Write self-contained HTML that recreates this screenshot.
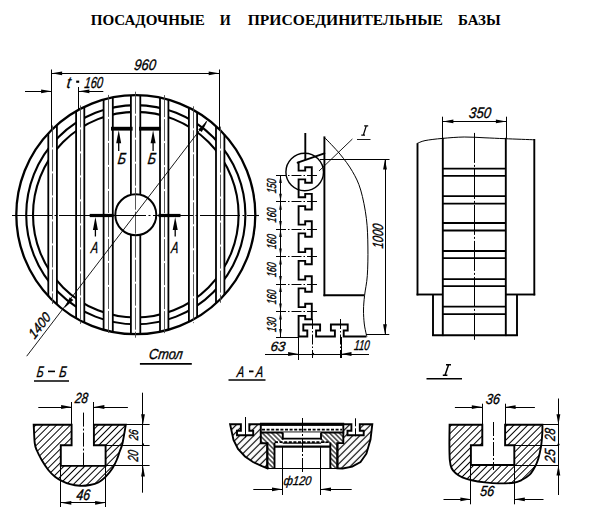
<!DOCTYPE html>
<html><head><meta charset="utf-8"><style>
html,body{margin:0;padding:0;background:#fff;width:600px;height:525px;overflow:hidden}
svg{display:block}
</style></head><body>
<svg width="600" height="525" viewBox="0 0 600 525" stroke="#000" fill="none" font-family='"Liberation Sans", sans-serif'>
<text x="0" y="0" font-size="100" font-style="normal" font-weight="bold" transform="translate(148 20.1) scale(0.15088 0.14967) translate(-379.74 32.74)" font-family='"Liberation Serif", serif' fill="#000" stroke="none">ПОСАДОЧНЫЕ</text>
<text x="0" y="0" font-size="100" font-style="normal" font-weight="bold" transform="translate(225.25 20.1) scale(0.14110 0.14967) translate(-38.92 32.74)" font-family='"Liberation Serif", serif' fill="#000" stroke="none">И</text>
<text x="0" y="0" font-size="100" font-style="normal" font-weight="bold" transform="translate(345.25 20.1) scale(0.15621 0.14967) translate(-624.51 32.74)" font-family='"Liberation Serif", serif' fill="#000" stroke="none">ПРИСОЕДИНИТЕЛЬНЫЕ</text>
<text x="0" y="0" font-size="100" font-style="normal" font-weight="bold" transform="translate(479.65 20.1) scale(0.14936 0.14967) translate(-144.65 32.74)" font-family='"Liberation Serif", serif' fill="#000" stroke="none">БАЗЫ</text>
<clipPath id="cc"><circle cx="135.8" cy="214.7" r="119.5"/></clipPath>
<circle cx="135.8" cy="214.7" r="109.6" fill="none" stroke-width="2.1"/>
<circle cx="135.8" cy="214.7" r="102.8" fill="none" stroke-width="2.1"/>
<g clip-path="url(#cc)"><rect x="48.3" y="80" width="8.6" height="280" fill="#fff" stroke="none"/><rect x="76.1" y="80" width="8.2" height="280" fill="#fff" stroke="none"/><rect x="103.6" y="80" width="9.2" height="280" fill="#fff" stroke="none"/><rect x="130.9" y="80" width="9.4" height="280" fill="#fff" stroke="none"/><rect x="160" y="80" width="8.4" height="280" fill="#fff" stroke="none"/><rect x="188.9" y="80" width="8.2" height="280" fill="#fff" stroke="none"/><rect x="216" y="80" width="8.4" height="280" fill="#fff" stroke="none"/></g>
<circle cx="135.8" cy="214.7" r="119.5" fill="none" stroke-width="2.3"/>
<line x1="48.3" y1="133.31" x2="48.3" y2="296.09" stroke-width="1.8" stroke-linecap="butt"/>
<line x1="56.9" y1="124.95" x2="56.9" y2="304.45" stroke-width="1.8" stroke-linecap="butt"/>
<line x1="76.1" y1="111.18" x2="76.1" y2="318.22" stroke-width="1.8" stroke-linecap="butt"/>
<line x1="84.3" y1="106.87" x2="84.3" y2="322.53" stroke-width="1.8" stroke-linecap="butt"/>
<line x1="103.6" y1="99.62" x2="103.6" y2="329.78" stroke-width="1.8" stroke-linecap="butt"/>
<line x1="112.8" y1="97.43" x2="112.8" y2="331.97" stroke-width="1.8" stroke-linecap="butt"/>
<line x1="130.9" y1="95.3" x2="130.9" y2="334.1" stroke-width="1.8" stroke-linecap="butt"/>
<line x1="140.3" y1="95.28" x2="140.3" y2="334.12" stroke-width="1.8" stroke-linecap="butt"/>
<line x1="160" y1="97.68" x2="160" y2="331.72" stroke-width="1.8" stroke-linecap="butt"/>
<line x1="168.4" y1="99.73" x2="168.4" y2="329.67" stroke-width="1.8" stroke-linecap="butt"/>
<line x1="188.9" y1="107.65" x2="188.9" y2="321.75" stroke-width="1.8" stroke-linecap="butt"/>
<line x1="197.1" y1="112.12" x2="197.1" y2="317.28" stroke-width="1.8" stroke-linecap="butt"/>
<line x1="216" y1="126.11" x2="216" y2="303.29" stroke-width="1.8" stroke-linecap="butt"/>
<line x1="224.4" y1="134.51" x2="224.4" y2="294.89" stroke-width="1.8" stroke-linecap="butt"/>
<circle cx="135.8" cy="214.7" r="20.5" fill="#fff" stroke-width="2"/>
<line x1="52.5" y1="125.42" x2="52.5" y2="303.98" stroke-width="0.9" stroke-dasharray="22 2" stroke="#444" stroke-linecap="butt"/>
<line x1="80.5" y1="105.42" x2="80.5" y2="323.98" stroke-width="0.9" stroke-dasharray="22 2" stroke="#444" stroke-linecap="butt"/>
<line x1="108.5" y1="94.93" x2="108.5" y2="334.47" stroke-width="0.9" stroke-dasharray="22 2" stroke="#444" stroke-linecap="butt"/>
<line x1="135.5" y1="91.7" x2="135.5" y2="337.7" stroke-width="0.9" stroke-dasharray="22 2" stroke="#444" stroke-linecap="butt"/>
<line x1="164.5" y1="95.12" x2="164.5" y2="334.28" stroke-width="0.9" stroke-dasharray="22 2" stroke="#444" stroke-linecap="butt"/>
<line x1="193.5" y1="106.28" x2="193.5" y2="323.12" stroke-width="0.9" stroke-dasharray="22 2" stroke="#444" stroke-linecap="butt"/>
<line x1="220.5" y1="126.6" x2="220.5" y2="302.8" stroke-width="0.9" stroke-dasharray="22 2" stroke="#444" stroke-linecap="butt"/>
<line x1="12" y1="215.5" x2="259" y2="215.5" stroke-width="1.1" stroke-dasharray="40 2.5 2 2.5" stroke-linecap="butt"/>
<rect x="111" y="126.8" width="21.6" height="3.8" fill="#000" stroke="none" stroke-width="0"/>
<rect x="139" y="126.8" width="21.5" height="3.8" fill="#000" stroke="none" stroke-width="0"/>
<line x1="118.7" y1="140" x2="118.7" y2="151" stroke-width="1.3" stroke-linecap="butt"/>
<polygon points="118.7,130.3 121.2,143.3 116.2,143.3" fill="#000" stroke="none"/>
<line x1="153.1" y1="140" x2="153.1" y2="151" stroke-width="1.3" stroke-linecap="butt"/>
<polygon points="153.1,130.3 155.6,143.3 150.6,143.3" fill="#000" stroke="none"/>
<text x="0" y="0" font-size="100" font-style="italic" font-weight="normal" transform="translate(122 158.3) skewX(-7) scale(0.12714 0.15989) translate(-32.32 34.4)" font-family='"Liberation Sans", sans-serif' fill="#000" stroke="#000" stroke-width="2.189">Б</text>
<text x="0" y="0" font-size="100" font-style="italic" font-weight="normal" transform="translate(152 158.3) skewX(-7) scale(0.12714 0.15989) translate(-32.32 34.4)" font-family='"Liberation Sans", sans-serif' fill="#000" stroke="#000" stroke-width="2.189">Б</text>
<rect x="89.7" y="213.9" width="23.9" height="3.2" fill="#000" stroke="none" stroke-width="0"/>
<rect x="158.5" y="213.9" width="22" height="3.2" fill="#000" stroke="none" stroke-width="0"/>
<line x1="95.4" y1="225" x2="95.4" y2="236.5" stroke-width="1.3" stroke-linecap="butt"/>
<polygon points="95.4,217.1 97.9,230.1 92.9,230.1" fill="#000" stroke="none"/>
<line x1="175.2" y1="225" x2="175.2" y2="236.5" stroke-width="1.3" stroke-linecap="butt"/>
<polygon points="175.2,217.1 177.7,230.1 172.7,230.1" fill="#000" stroke="none"/>
<text x="0" y="0" font-size="100" font-style="italic" font-weight="normal" transform="translate(94.3 247.6) skewX(-7) scale(0.10790 0.15989) translate(-28.2 34.4)" font-family='"Liberation Sans", sans-serif' fill="#000" stroke="#000" stroke-width="2.189">A</text>
<text x="0" y="0" font-size="100" font-style="italic" font-weight="normal" transform="translate(174.5 247.6) skewX(-7) scale(0.10790 0.15989) translate(-28.2 34.4)" font-family='"Liberation Sans", sans-serif' fill="#000" stroke="#000" stroke-width="2.189">A</text>
<line x1="26.7" y1="356.2" x2="206.7" y2="121" stroke-width="0.9" stroke-linecap="butt"/>
<polygon points="207.34,121.23 201.79,132.09 198.3,129.42" fill="#000" stroke="none"/>
<polygon points="64.26,308.17 69.81,297.31 73.3,299.98" fill="#000" stroke="none"/>
<text x="0" y="0" font-size="100" font-style="italic" font-weight="normal" transform="translate(39.6 325.3) rotate(-52.57) skewX(-7) scale(0.12462 0.13842) translate(-112.11 34.42)" font-family='"Liberation Sans", sans-serif' fill="#000" stroke="#000" stroke-width="2.529">1400</text>
<line x1="51.5" y1="69.5" x2="51.5" y2="129.9" stroke-width="1" stroke-linecap="butt"/>
<line x1="219.5" y1="69.5" x2="219.5" y2="129.12" stroke-width="1" stroke-linecap="butt"/>
<line x1="51.6" y1="73.5" x2="219.2" y2="73.5" stroke-width="1" stroke-linecap="butt"/>
<polygon points="51.6,73.3 62.1,71.4 62.1,75.2" fill="#000" stroke="none"/>
<polygon points="219.2,73.3 208.7,75.2 208.7,71.4" fill="#000" stroke="none"/>
<text x="0" y="0" font-size="100" font-style="italic" font-weight="normal" transform="translate(145.5 64.6) skewX(-7) scale(0.13022 0.15254) translate(-84.72 34.42)" font-family='"Liberation Sans", sans-serif' fill="#000" stroke="#000" stroke-width="2.294">960</text>
<line x1="78.5" y1="87" x2="78.5" y2="109.62" stroke-width="1" stroke-linecap="butt"/>
<line x1="25" y1="91.5" x2="51.6" y2="91.5" stroke-width="1" stroke-linecap="butt"/>
<polygon points="51.6,91.3 41.1,93.2 41.1,89.4" fill="#000" stroke="none"/>
<line x1="78.9" y1="91.5" x2="103.3" y2="91.5" stroke-width="1" stroke-linecap="butt"/>
<polygon points="78.9,91.3 89.4,89.4 89.4,93.2" fill="#000" stroke="none"/>
<text x="0" y="0" font-size="100" font-style="italic" font-weight="normal" transform="translate(69.4 82.5) skewX(-7) scale(0.14504 0.16457) translate(-17.9 31.84)" font-family='"Liberation Sans", sans-serif' fill="#000" stroke="#000" stroke-width="1.823">t</text>
<rect x="76.2" y="80.6" width="3" height="2.2" fill="#000" stroke="none" stroke-width="0"/>
<text x="0" y="0" font-size="100" font-style="italic" font-weight="normal" transform="translate(94 82.3) skewX(-7) scale(0.11090 0.15819) translate(-84.3 34.42)" font-family='"Liberation Sans", sans-serif' fill="#000" stroke="#000" stroke-width="2.213">160</text>
<line x1="305.3" y1="133" x2="305.3" y2="160.2" stroke-width="1.9" stroke-linecap="butt"/>
<polyline points="298.6,161.8 298.6,170.6 305.2,170.6 305.2,167.2 311.8,167.2 311.8,182.8 305.2,182.8 305.2,179.4 298.6,179.4 298.6,197.3 305.2,197.3 305.2,193.9 311.8,193.9 311.8,209.5 305.2,209.5 305.2,206.1 298.6,206.1 298.6,224.6 305.2,224.6 305.2,221.2 311.8,221.2 311.8,236.8 305.2,236.8 305.2,233.4 298.6,233.4 298.6,252.1 305.2,252.1 305.2,248.7 311.8,248.7 311.8,264.3 305.2,264.3 305.2,260.9 298.6,260.9 298.6,279.6 305.2,279.6 305.2,276.2 311.8,276.2 311.8,291.8 305.2,291.8 305.2,288.4 298.6,288.4 298.6,307.1 305.2,307.1 305.2,303.7 311.8,303.7 311.8,319.3 305.2,319.3 305.2,315.9 298.6,315.9 298.6,336.5 307.3,336.5 307.3,330.5 303.3,330.5 303.3,324.5 320.1,324.5 320.1,330.5 316.1,330.5 316.1,336.5 334.9,336.5 334.9,330.5 330.9,330.5 330.9,324.5 347.7,324.5 347.7,330.5 343.7,330.5 343.7,336.5 366.5,336.5" fill="none" stroke-width="1.9" stroke-linejoin="miter"/>
<line x1="297.6" y1="162.7" x2="324.4" y2="153.4" stroke-width="1.9" stroke-linecap="round"/>
<line x1="324.4" y1="136.4" x2="324.4" y2="296.2" stroke-width="1.9" stroke-linecap="butt"/>
<line x1="323.5" y1="295.3" x2="364.5" y2="295.3" stroke-width="1.9" stroke-linecap="butt"/>
<path d="M324.2,137.1 C326.83,139.93 335.3,148.38 340,154.1 C344.7,159.82 348.95,165.42 352.4,171.4 C355.85,177.38 358.37,182.13 360.7,190 C363.03,197.87 365.2,209.1 366.4,218.6 C367.6,228.1 367.75,237.48 367.9,247 C368.05,256.52 367.85,267.65 367.3,275.7 C366.75,283.75 365.23,289.58 364.6,295.3 C363.97,301.02 363.55,305.22 363.5,310 C363.45,314.78 363.85,320 364.3,324 C364.75,328 365.75,331.92 366.2,334 C366.65,336.08 366.87,336.08 367,336.5" fill="none" stroke-width="1" />
<circle cx="304.7" cy="172" r="18.8" fill="none" stroke-width="1.4"/>
<line x1="352.4" y1="139" x2="319" y2="171" stroke-width="0.9" stroke-linecap="butt"/>
<path d="M364.2,125.8 L368.2,125.8 M366.3,125.8 L363.3,135.2 M361.3,135.2 L365,135.2" fill="none" stroke-width="1.2" />
<line x1="357" y1="139.5" x2="370.5" y2="139.5" stroke-width="0.9" stroke-linecap="butt"/>
<line x1="276" y1="175.5" x2="317.5" y2="175.5" stroke-width="1" stroke-dasharray="10 2 1.5 2" stroke-linecap="butt"/>
<line x1="276" y1="201.5" x2="317.5" y2="201.5" stroke-width="1" stroke-dasharray="10 2 1.5 2" stroke-linecap="butt"/>
<line x1="276" y1="229.5" x2="317.5" y2="229.5" stroke-width="1" stroke-dasharray="10 2 1.5 2" stroke-linecap="butt"/>
<line x1="276" y1="256.5" x2="317.5" y2="256.5" stroke-width="1" stroke-dasharray="10 2 1.5 2" stroke-linecap="butt"/>
<line x1="276" y1="284.5" x2="317.5" y2="284.5" stroke-width="1" stroke-dasharray="10 2 1.5 2" stroke-linecap="butt"/>
<line x1="276" y1="311.5" x2="317.5" y2="311.5" stroke-width="1" stroke-dasharray="10 2 1.5 2" stroke-linecap="butt"/>
<line x1="312.5" y1="319" x2="312.5" y2="358" stroke-width="1" stroke-dasharray="10 2 1.5 2" stroke-linecap="butt"/>
<line x1="340.5" y1="319" x2="340.5" y2="358" stroke-width="1" stroke-dasharray="10 2 1.5 2" stroke-linecap="butt"/>
<line x1="280.5" y1="175" x2="280.5" y2="337" stroke-width="1" stroke-linecap="butt"/>
<line x1="276" y1="337.5" x2="298.6" y2="337.5" stroke-width="1" stroke-linecap="butt"/>
<polygon points="280.5,175 281.8,183 279.2,183" fill="#000" stroke="none"/>
<polygon points="280.5,201.7 279.2,193.7 281.8,193.7" fill="#000" stroke="none"/>
<polygon points="280.5,201.7 281.8,209.7 279.2,209.7" fill="#000" stroke="none"/>
<polygon points="280.5,229 279.2,221 281.8,221" fill="#000" stroke="none"/>
<polygon points="280.5,229 281.8,237 279.2,237" fill="#000" stroke="none"/>
<polygon points="280.5,256.5 279.2,248.5 281.8,248.5" fill="#000" stroke="none"/>
<polygon points="280.5,256.5 281.8,264.5 279.2,264.5" fill="#000" stroke="none"/>
<polygon points="280.5,284 279.2,276 281.8,276" fill="#000" stroke="none"/>
<polygon points="280.5,284 281.8,292 279.2,292" fill="#000" stroke="none"/>
<polygon points="280.5,311.5 279.2,303.5 281.8,303.5" fill="#000" stroke="none"/>
<polygon points="280.5,311.5 281.8,319.5 279.2,319.5" fill="#000" stroke="none"/>
<polygon points="280.5,337 279.2,329 281.8,329" fill="#000" stroke="none"/>
<text x="0" y="0" font-size="100" font-style="italic" font-weight="normal" transform="translate(271.6 185.7) rotate(-90) skewX(-7) scale(0.08671 0.12994) translate(-84.3 34.42)" font-family='"Liberation Sans", sans-serif' fill="#000" stroke="#000" stroke-width="2.694">150</text>
<text x="0" y="0" font-size="100" font-style="italic" font-weight="normal" transform="translate(271.6 214.8) rotate(-90) skewX(-7) scale(0.08671 0.12994) translate(-84.3 34.42)" font-family='"Liberation Sans", sans-serif' fill="#000" stroke="#000" stroke-width="2.694">160</text>
<text x="0" y="0" font-size="100" font-style="italic" font-weight="normal" transform="translate(271.6 241.4) rotate(-90) skewX(-7) scale(0.08671 0.12994) translate(-84.3 34.42)" font-family='"Liberation Sans", sans-serif' fill="#000" stroke="#000" stroke-width="2.694">160</text>
<text x="0" y="0" font-size="100" font-style="italic" font-weight="normal" transform="translate(271.6 269.5) rotate(-90) skewX(-7) scale(0.08671 0.12994) translate(-84.3 34.42)" font-family='"Liberation Sans", sans-serif' fill="#000" stroke="#000" stroke-width="2.694">160</text>
<text x="0" y="0" font-size="100" font-style="italic" font-weight="normal" transform="translate(271.6 296.7) rotate(-90) skewX(-7) scale(0.08671 0.12994) translate(-84.3 34.42)" font-family='"Liberation Sans", sans-serif' fill="#000" stroke="#000" stroke-width="2.694">160</text>
<text x="0" y="0" font-size="100" font-style="italic" font-weight="normal" transform="translate(271.6 324.3) rotate(-90) skewX(-7) scale(0.08671 0.12994) translate(-84.3 34.42)" font-family='"Liberation Sans", sans-serif' fill="#000" stroke="#000" stroke-width="2.694">130</text>
<line x1="320" y1="159.5" x2="389.5" y2="159.5" stroke-width="1" stroke-linecap="butt"/>
<line x1="366" y1="334.5" x2="389.3" y2="334.5" stroke-width="1" stroke-linecap="butt"/>
<line x1="385.5" y1="159" x2="385.5" y2="334.8" stroke-width="1" stroke-linecap="butt"/>
<polygon points="385,159 386.9,169.5 383.1,169.5" fill="#000" stroke="none"/>
<polygon points="385,334.8 383.1,324.3 386.9,324.3" fill="#000" stroke="none"/>
<text x="0" y="0" font-size="100" font-style="italic" font-weight="normal" transform="translate(378 235.8) rotate(-90) skewX(-7) scale(0.11053 0.14830) translate(-112.11 34.42)" font-family='"Liberation Sans", sans-serif' fill="#000" stroke="#000" stroke-width="2.360">1000</text>
<line x1="265" y1="354.5" x2="369" y2="354.5" stroke-width="1" stroke-linecap="butt"/>
<line x1="298.5" y1="337" x2="298.5" y2="360" stroke-width="1" stroke-linecap="butt"/>
<line x1="341.5" y1="337" x2="341.5" y2="358" stroke-width="1" stroke-linecap="butt"/>
<polygon points="298.6,354 288.1,355.9 288.1,352.1" fill="#000" stroke="none"/>
<polygon points="341,354 351.5,352.1 351.5,355.9" fill="#000" stroke="none"/>
<circle cx="313" cy="354" r="1.2" fill="#000" stroke-width="0"/>
<text x="0" y="0" font-size="100" font-style="italic" font-weight="normal" transform="translate(278.5 346.5) skewX(-7) scale(0.13208 0.13418) translate(-57.98 34.42)" font-family='"Liberation Sans", sans-serif' fill="#000" stroke="#000" stroke-width="2.608">63</text>
<text x="0" y="0" font-size="100" font-style="italic" font-weight="normal" transform="translate(362.5 345) skewX(-7) scale(0.09651 0.14124) translate(-84.3 34.42)" font-family='"Liberation Sans", sans-serif' fill="#000" stroke="#000" stroke-width="2.478">110</text>
<path d="M416.9,143.6 C418.25,143.1 420.73,141.47 425,140.6 C429.27,139.73 435.97,139 442.5,138.4 C449.03,137.8 457.12,137.1 464.2,137 C471.28,136.9 478.15,137.52 485,137.8 C491.85,138.08 497,138.37 505.3,138.7 C513.6,139.03 529.88,139.62 534.8,139.8" fill="none" stroke-width="1" />
<line x1="417.5" y1="143.3" x2="417.5" y2="295.4" stroke-width="1.9" stroke-linecap="butt"/>
<line x1="534.3" y1="139" x2="534.3" y2="295.4" stroke-width="1.9" stroke-linecap="butt"/>
<line x1="442.8" y1="137.8" x2="442.8" y2="336.1" stroke-width="1.9" stroke-linecap="butt"/>
<line x1="505.8" y1="137.8" x2="505.8" y2="336.1" stroke-width="1.9" stroke-linecap="butt"/>
<line x1="416.6" y1="294.5" x2="442.8" y2="294.5" stroke-width="1.9" stroke-linecap="butt"/>
<line x1="505.8" y1="294.5" x2="535.2" y2="294.5" stroke-width="1.9" stroke-linecap="butt"/>
<line x1="433" y1="294.5" x2="433" y2="336.1" stroke-width="1.9" stroke-linecap="butt"/>
<line x1="517" y1="294.5" x2="517" y2="336.1" stroke-width="1.9" stroke-linecap="butt"/>
<line x1="432.1" y1="335.2" x2="517.9" y2="335.2" stroke-width="1.9" stroke-linecap="butt"/>
<line x1="442.8" y1="168.6" x2="505.8" y2="168.6" stroke-width="1.8" stroke-linecap="butt"/>
<line x1="442.8" y1="175.9" x2="505.8" y2="175.9" stroke-width="1.8" stroke-linecap="butt"/>
<line x1="442.8" y1="196.2" x2="505.8" y2="196.2" stroke-width="1.8" stroke-linecap="butt"/>
<line x1="442.8" y1="203.6" x2="505.8" y2="203.6" stroke-width="1.8" stroke-linecap="butt"/>
<line x1="442.8" y1="223" x2="505.8" y2="223" stroke-width="1.8" stroke-linecap="butt"/>
<line x1="442.8" y1="230.5" x2="505.8" y2="230.5" stroke-width="1.8" stroke-linecap="butt"/>
<line x1="442.8" y1="251" x2="505.8" y2="251" stroke-width="1.8" stroke-linecap="butt"/>
<line x1="442.8" y1="258.2" x2="505.8" y2="258.2" stroke-width="1.8" stroke-linecap="butt"/>
<line x1="442.8" y1="279.2" x2="505.8" y2="279.2" stroke-width="1.8" stroke-linecap="butt"/>
<line x1="442.8" y1="286.2" x2="505.8" y2="286.2" stroke-width="1.8" stroke-linecap="butt"/>
<line x1="442.8" y1="306.7" x2="505.8" y2="306.7" stroke-width="1.8" stroke-linecap="butt"/>
<line x1="442.8" y1="314.2" x2="505.8" y2="314.2" stroke-width="1.8" stroke-linecap="butt"/>
<line x1="474.5" y1="132.9" x2="474.5" y2="339.8" stroke-width="1" stroke-dasharray="30 2 2 2" stroke-linecap="butt"/>
<line x1="442.5" y1="116.7" x2="442.5" y2="138" stroke-width="1" stroke-linecap="butt"/>
<line x1="506.5" y1="116.7" x2="506.5" y2="138" stroke-width="1" stroke-linecap="butt"/>
<line x1="442.9" y1="121.5" x2="506.4" y2="121.5" stroke-width="1" stroke-linecap="butt"/>
<polygon points="442.9,121.4 453.4,119.5 453.4,123.3" fill="#000" stroke="none"/>
<polygon points="506.4,121.4 495.9,123.3 495.9,119.5" fill="#000" stroke="none"/>
<text x="0" y="0" font-size="100" font-style="italic" font-weight="normal" transform="translate(480.3 112.4) skewX(-7) scale(0.13120 0.15254) translate(-84.18 34.42)" font-family='"Liberation Sans", sans-serif' fill="#000" stroke="#000" stroke-width="2.294">350</text>
<pattern id="hat" patternUnits="userSpaceOnUse" width="4.9" height="4.9" patternTransform="rotate(45)"><line x1="2.45" y1="0" x2="2.45" y2="4.9" stroke="#000" stroke-width="1.0"/></pattern>
<pattern id="hat2" patternUnits="userSpaceOnUse" width="5.0" height="5.0" patternTransform="rotate(45)"><line x1="2.5" y1="0" x2="2.5" y2="5.0" stroke="#000" stroke-width="1.2"/></pattern>
<pattern id="hat3" patternUnits="userSpaceOnUse" width="3.4" height="3.4" patternTransform="rotate(-45)"><line x1="1.7" y1="0" x2="1.7" y2="3.4" stroke="#000" stroke-width="1.1"/></pattern>
<text x="0" y="0" font-size="100" font-style="italic" font-weight="normal" transform="translate(40.3 371.3) skewX(-7) scale(0.10770 0.15262) translate(-32.32 34.4)" font-family='"Liberation Sans", sans-serif' fill="#000" stroke="#000" stroke-width="2.293">Б</text>
<rect x="48" y="370.6" width="7" height="1.6" fill="#000" stroke="none" stroke-width="0"/>
<text x="0" y="0" font-size="100" font-style="italic" font-weight="normal" transform="translate(63 371.3) skewX(-7) scale(0.11453 0.15262) translate(-32.32 34.4)" font-family='"Liberation Sans", sans-serif' fill="#000" stroke="#000" stroke-width="2.293">Б</text>
<line x1="34" y1="381" x2="69" y2="381" stroke-width="1.6" stroke-linecap="butt"/>
<path d="M33.7,424.75 C33.88,427.82 34.22,438.91 34.75,443.2 C35.28,447.49 35.74,447.7 36.9,450.5 C38.06,453.3 39.8,456.75 41.7,460 C43.6,463.25 46.08,467.22 48.3,470 C50.52,472.78 52.77,474.9 55,476.7 C57.23,478.5 59.2,479.55 61.7,480.8 C64.2,482.05 66.95,483.37 70,484.2 C73.05,485.03 76.67,485.67 80,485.8 C83.33,485.93 86.95,485.55 90,485 C93.05,484.45 95.67,483.88 98.3,482.5 C100.93,481.12 103.43,479.07 105.8,476.7 C108.17,474.33 110.68,471.08 112.5,468.3 C114.32,465.52 115.52,462.77 116.7,460 C117.88,457.23 118.63,454.5 119.6,451.7 C120.57,448.9 121.47,447.69 122.5,443.2 C123.53,438.71 125.25,427.82 125.8,424.75 L93.9,424.75 L93.9,445.3 L105.6,445.3 L105.6,465.9 L60.8,465.9 L60.8,445.3 L71.6,445.3 L71.6,424.75 Z" fill="url(#hat)" stroke-width="1.9" />
<line x1="83.5" y1="412.6" x2="83.5" y2="468.8" stroke-width="1" stroke-dasharray="14 2 2 2" stroke-linecap="butt"/>
<line x1="71.5" y1="424.75" x2="71.5" y2="402" stroke-width="1" stroke-linecap="butt"/>
<line x1="93.5" y1="424.75" x2="93.5" y2="402" stroke-width="1" stroke-linecap="butt"/>
<line x1="38.3" y1="407.5" x2="71.6" y2="407.5" stroke-width="1" stroke-linecap="butt"/>
<line x1="93.9" y1="407.5" x2="127.9" y2="407.5" stroke-width="1" stroke-linecap="butt"/>
<polygon points="71.6,407 61.1,408.9 61.1,405.1" fill="#000" stroke="none"/>
<polygon points="93.9,407 104.4,405.1 104.4,408.9" fill="#000" stroke="none"/>
<text x="0" y="0" font-size="100" font-style="italic" font-weight="normal" transform="translate(81.6 397.8) skewX(-7) scale(0.11708 0.14689) translate(-55.03 34.42)" font-family='"Liberation Sans", sans-serif' fill="#000" stroke="#000" stroke-width="2.383">28</text>
<line x1="60.5" y1="465.9" x2="60.5" y2="507" stroke-width="1" stroke-linecap="butt"/>
<line x1="105.5" y1="465.9" x2="105.5" y2="507" stroke-width="1" stroke-linecap="butt"/>
<line x1="60.8" y1="502.5" x2="105.6" y2="502.5" stroke-width="1" stroke-linecap="butt"/>
<polygon points="60.8,502.8 71.3,500.9 71.3,504.7" fill="#000" stroke="none"/>
<polygon points="105.6,502.8 95.1,504.7 95.1,500.9" fill="#000" stroke="none"/>
<text x="0" y="0" font-size="100" font-style="italic" font-weight="normal" transform="translate(83.5 495.2) skewX(-7) scale(0.12364 0.15254) translate(-55.93 34.42)" font-family='"Liberation Sans", sans-serif' fill="#000" stroke="#000" stroke-width="2.294">46</text>
<line x1="125.8" y1="424.5" x2="149.6" y2="424.5" stroke-width="1" stroke-linecap="butt"/>
<line x1="105.6" y1="445.5" x2="149.6" y2="445.5" stroke-width="1" stroke-linecap="butt"/>
<line x1="105.6" y1="465.5" x2="149.6" y2="465.5" stroke-width="1" stroke-linecap="butt"/>
<line x1="142.5" y1="392.7" x2="142.5" y2="492.7" stroke-width="1" stroke-linecap="butt"/>
<circle cx="143" cy="444.3" r="1.1" fill="#000" stroke-width="0"/>
<polygon points="143,424.75 141.1,414.25 144.9,414.25" fill="#000" stroke="none"/>
<polygon points="143,465.9 144.9,476.4 141.1,476.4" fill="#000" stroke="none"/>
<text x="0" y="0" font-size="100" font-style="italic" font-weight="normal" transform="translate(133.1 434.75) rotate(-90) skewX(-7) scale(0.09274 0.12994) translate(-55.32 34.42)" font-family='"Liberation Sans", sans-serif' fill="#000" stroke="#000" stroke-width="2.694">26</text>
<text x="0" y="0" font-size="100" font-style="italic" font-weight="normal" transform="translate(133.4 455.7) rotate(-90) skewX(-7) scale(0.10044 0.14407) translate(-54.91 34.42)" font-family='"Liberation Sans", sans-serif' fill="#000" stroke="#000" stroke-width="2.429">20</text>
<path d="M446,364.8 L451,364.8 M448.6,364.8 L445,375.2 M442.8,375.2 L447.4,375.2" fill="none" stroke-width="1.5" />
<line x1="426.5" y1="378.8" x2="462" y2="378.8" stroke-width="1.6" stroke-linecap="butt"/>
<path d="M449.6,424.7 C449.57,428.08 449.37,439.12 449.4,445 C449.43,450.88 449.45,456.17 449.8,460 C450.15,463.83 450.52,465.78 451.5,468 C452.48,470.22 453.9,471.75 455.7,473.3 C457.5,474.85 459.63,476.15 462.3,477.3 C464.97,478.45 467.92,479.35 471.7,480.2 C475.48,481.05 480.62,481.87 485,482.4 C489.38,482.93 493.22,483.35 498,483.4 C502.78,483.45 509.75,483.27 513.7,482.7 C517.65,482.13 519.03,481.33 521.7,480 C524.37,478.67 527.48,476.92 529.7,474.7 C531.92,472.48 533.57,469.37 535,466.7 C536.43,464.03 537.3,462.03 538.3,458.7 C539.3,455.37 540.33,450.93 541,446.7 C541.67,442.47 542.07,436.97 542.3,433.3 C542.53,429.63 542.38,426.13 542.4,424.7 L505.1,424.7 L505.1,445.3 L514.3,445.3 L514.3,465.0 L470.9,465.0 L470.9,445.3 L482.3,445.3 L482.3,424.7 Z" fill="url(#hat)" stroke-width="1.9" />
<line x1="493.5" y1="422" x2="493.5" y2="470" stroke-width="1" stroke-dasharray="14 2 2 2" stroke-linecap="butt"/>
<line x1="482.5" y1="424.7" x2="482.5" y2="403.7" stroke-width="1" stroke-linecap="butt"/>
<line x1="505.5" y1="424.7" x2="505.5" y2="403.7" stroke-width="1" stroke-linecap="butt"/>
<line x1="454.9" y1="407.5" x2="482.3" y2="407.5" stroke-width="1" stroke-linecap="butt"/>
<line x1="505.1" y1="407.5" x2="534.9" y2="407.5" stroke-width="1" stroke-linecap="butt"/>
<polygon points="482.3,407.1 471.8,409 471.8,405.2" fill="#000" stroke="none"/>
<polygon points="505.1,407.1 515.6,405.2 515.6,409" fill="#000" stroke="none"/>
<text x="0" y="0" font-size="100" font-style="italic" font-weight="normal" transform="translate(493.2 398.5) skewX(-7) scale(0.12614 0.14548) translate(-56.79 34.42)" font-family='"Liberation Sans", sans-serif' fill="#000" stroke="#000" stroke-width="2.406">36</text>
<line x1="470.5" y1="465" x2="470.5" y2="504.3" stroke-width="1" stroke-linecap="butt"/>
<line x1="514.5" y1="465" x2="514.5" y2="504.3" stroke-width="1" stroke-linecap="butt"/>
<line x1="443.5" y1="499.5" x2="470.9" y2="499.5" stroke-width="1" stroke-linecap="butt"/>
<line x1="514.3" y1="499.5" x2="543.5" y2="499.5" stroke-width="1" stroke-linecap="butt"/>
<polygon points="470.9,499.3 460.4,501.2 460.4,497.4" fill="#000" stroke="none"/>
<polygon points="514.3,499.3 524.8,497.4 524.8,501.2" fill="#000" stroke="none"/>
<text x="0" y="0" font-size="100" font-style="italic" font-weight="normal" transform="translate(487.5 491.2) skewX(-7) scale(0.12603 0.14548) translate(-56.74 34.42)" font-family='"Liberation Sans", sans-serif' fill="#000" stroke="#000" stroke-width="2.406">56</text>
<line x1="542.4" y1="424.5" x2="558.9" y2="424.5" stroke-width="1" stroke-linecap="butt"/>
<line x1="514.3" y1="445.5" x2="558.9" y2="445.5" stroke-width="1" stroke-linecap="butt"/>
<line x1="514.3" y1="465.5" x2="558.9" y2="465.5" stroke-width="1" stroke-linecap="butt"/>
<line x1="558.5" y1="398.5" x2="558.5" y2="495" stroke-width="1" stroke-linecap="butt"/>
<circle cx="558.5" cy="444.5" r="1.1" fill="#000" stroke-width="0"/>
<polygon points="558.4,424.7 556.5,414.2 560.3,414.2" fill="#000" stroke="none"/>
<polygon points="558.4,465 560.3,475.5 556.5,475.5" fill="#000" stroke="none"/>
<text x="0" y="0" font-size="100" font-style="italic" font-weight="normal" transform="translate(550.2 434.5) rotate(-90) skewX(-7) scale(0.11169 0.14689) translate(-55.03 34.42)" font-family='"Liberation Sans", sans-serif' fill="#000" stroke="#000" stroke-width="2.383">28</text>
<text x="0" y="0" font-size="100" font-style="italic" font-weight="normal" transform="translate(550.2 455.7) rotate(-90) skewX(-7) scale(0.12068 0.14689) translate(-55.44 34.42)" font-family='"Liberation Sans", sans-serif' fill="#000" stroke="#000" stroke-width="2.383">25</text>
<text x="0" y="0" font-size="100" font-style="italic" font-weight="normal" transform="translate(240.3 371.3) skewX(-7) scale(0.10883 0.15262) translate(-28.2 34.4)" font-family='"Liberation Sans", sans-serif' fill="#000" stroke="#000" stroke-width="2.293">А</text>
<rect x="249" y="370.5" width="4.5" height="1.8" fill="#000" stroke="none" stroke-width="0"/>
<text x="0" y="0" font-size="100" font-style="italic" font-weight="normal" transform="translate(259.3 371.3) skewX(-7) scale(0.10883 0.15262) translate(-28.2 34.4)" font-family='"Liberation Sans", sans-serif' fill="#000" stroke="#000" stroke-width="2.293">А</text>
<line x1="228.5" y1="380" x2="265.5" y2="380" stroke-width="1.7" stroke-linecap="butt"/>
<polygon points="230.1,424.2 240.9,424.2 240.9,430.8 237,430.8 237,435.2 253.2,435.2 253.2,430.8 249.3,430.8 249.3,424.2 260.8,424.2 260.8,443.2 267.3,443.2 267.3,468.4 262,466.2 253,462 245,456.5 238,449 233.5,440 230.1,424.2" fill="url(#hat2)" stroke-width="1.9" stroke-linejoin="miter"/>
<polygon points="337.4,468.4 337.4,443.1 343.3,443.1 343.3,424.2 351.4,424.2 351.4,430.8 347.5,430.8 347.5,435.2 363.7,435.2 363.7,430.8 359.8,430.8 359.8,424.2 372.3,424.2 370.5,439.5 366.4,453.7 360.5,462 352.2,466.7 342.7,468.5 337.4,468.4" fill="url(#hat2)" stroke-width="1.9" stroke-linejoin="miter"/>
<rect x="267.3" y="443.2" width="7.2" height="25.2" fill="url(#hat3)" stroke="none" stroke-width="0"/>
<rect x="330.3" y="443.1" width="7.1" height="25.3" fill="url(#hat3)" stroke="none" stroke-width="0"/>
<rect x="260.8" y="432.4" width="22" height="10.8" fill="url(#hat3)" stroke="none" stroke-width="0"/>
<rect x="321" y="432.4" width="22.3" height="10.7" fill="url(#hat3)" stroke="none" stroke-width="0"/>
<line x1="259.9" y1="423.9" x2="344.2" y2="423.9" stroke-width="2.2" stroke-linecap="butt"/>
<line x1="260.8" y1="425.5" x2="343.3" y2="425.5" stroke-width="0.9" stroke-linecap="butt"/>
<line x1="262" y1="429.6" x2="342" y2="429.6" stroke-width="1.7" stroke-dasharray="3 1.6" stroke-linecap="butt"/>
<line x1="259.9" y1="432.4" x2="344.2" y2="432.4" stroke-width="2" stroke-linecap="butt"/>
<rect x="282.8" y="432.4" width="38.2" height="6.1" fill="#fff" stroke="none" stroke-width="0"/>
<line x1="281.8" y1="438.6" x2="322" y2="438.6" stroke-width="1.9" stroke-linecap="butt"/>
<line x1="282.8" y1="432.4" x2="282.8" y2="439.5" stroke-width="1.9" stroke-linecap="butt"/>
<line x1="321" y1="432.4" x2="321" y2="439.5" stroke-width="1.9" stroke-linecap="butt"/>
<line x1="275" y1="442.2" x2="330" y2="442.2" stroke-width="1.7" stroke-dasharray="3 1.6" stroke-linecap="butt"/>
<line x1="274.5" y1="446.6" x2="330.3" y2="446.6" stroke-width="2.3" stroke-linecap="butt"/>
<line x1="267.3" y1="442.5" x2="267.3" y2="469" stroke-width="1.9" stroke-linecap="butt"/>
<line x1="274.5" y1="442.5" x2="274.5" y2="469" stroke-width="1.9" stroke-linecap="butt"/>
<line x1="330.3" y1="442.5" x2="330.3" y2="469" stroke-width="1.9" stroke-linecap="butt"/>
<line x1="337.4" y1="442.5" x2="337.4" y2="469" stroke-width="1.9" stroke-linecap="butt"/>
<line x1="267.3" y1="468.5" x2="337.4" y2="468.5" stroke-width="1" stroke-linecap="butt"/>
<line x1="282.8" y1="443.2" x2="321" y2="443.2" stroke-width="1.2" stroke-linecap="butt"/>
<line x1="302.5" y1="418" x2="302.5" y2="472" stroke-width="1" stroke-dasharray="14 2 2 2" stroke-linecap="butt"/>
<line x1="245.5" y1="417" x2="245.5" y2="437.5" stroke-width="1" stroke-linecap="butt"/>
<line x1="355.5" y1="418.3" x2="355.5" y2="438.4" stroke-width="1" stroke-dasharray="8 2" stroke-linecap="butt"/>
<line x1="282.5" y1="447" x2="282.5" y2="495" stroke-width="1" stroke-linecap="butt"/>
<line x1="320.5" y1="447" x2="320.5" y2="495" stroke-width="1" stroke-linecap="butt"/>
<line x1="253.3" y1="489.5" x2="282.5" y2="489.5" stroke-width="1" stroke-linecap="butt"/>
<line x1="320.5" y1="489.5" x2="351.7" y2="489.5" stroke-width="1" stroke-linecap="butt"/>
<polygon points="282.5,489.3 272,491.2 272,487.4" fill="#000" stroke="none"/>
<polygon points="320.5,489.3 331,487.4 331,491.2" fill="#000" stroke="none"/>
<text x="0" y="0" font-size="100" font-style="italic" font-weight="normal" transform="translate(297.7 482) skewX(-7) scale(0.11028 0.12659) translate(-126.46 25.85)" font-family='"Liberation Sans", sans-serif' fill="#000" stroke="#000" stroke-width="2.765">ф120</text>
<text x="0" y="0" font-size="100" font-style="italic" font-weight="normal" transform="translate(166.5 354.3) skewX(-7) scale(0.12760 0.14535) translate(-135.5 34.4)" font-family='"Liberation Sans", sans-serif' fill="#000" stroke="#000" stroke-width="2.408">Стол</text>
<line x1="139.9" y1="363.9" x2="191.8" y2="363.9" stroke-width="1.6" stroke-linecap="butt"/>
</svg></body></html>
